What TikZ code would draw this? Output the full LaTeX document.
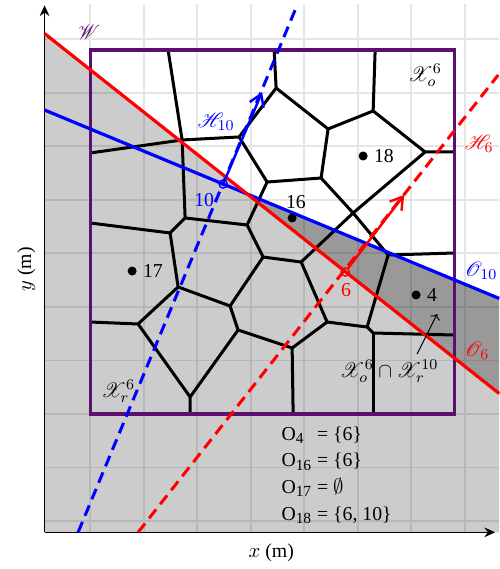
\documentclass[tikz,border=0pt]{standalone}
\usepackage{fontspec}
\setmainfont{Liberation Serif}
\usepackage{mathrsfs}
\DeclareMathSizes{10.5}{10.5}{8.2}{6.5}
\usetikzlibrary{arrows.meta,positioning}
\definecolor{cPurple}{HTML}{5C0F6E}
\definecolor{cLight}{HTML}{CCCCCC}
\definecolor{cDark}{HTML}{999999}

\begin{document}
\begin{tikzpicture}[
  x=1.7cm,y=1.7cm,
  font=\fontsize{10.5}{12.6}\selectfont,
  gridline/.style={draw=black,opacity=0.1,line width=1pt},
  axis/.style={-{Stealth[length=2mm,width=1.8mm]},line width=0.8pt},
  vedge/.style={line width=1.6pt,line join=round},
  border/.style={draw=cPurple,line width=1.7pt},
  halfline/.style={line width=1.7pt},
  hyper/.style={line width=1.6pt,dash pattern=on 6pt off 3.5pt},
  move/.style={line width=1.3pt,-{Straight Barb[length=2.2mm,width=2.8mm]}},
  site/.style={circle,fill=black,inner sep=0pt,minimum size=4.8pt},
  agent/.style={circle,draw,line width=0.7pt,inner sep=0pt,minimum size=4.4pt},
  lbl/.style={inner sep=1pt},
  note/.style={->,line width=0.5pt}
]
\useasboundingbox (-0.99,-1.703) rectangle (4.495,4.549);

% half-plane boundaries
\coordinate (o6a) at (-0.5,4.18);
\coordinate (o6b) at (4.495,0.225);
\coordinate (o10a) at (-0.5,3.34);
\coordinate (o10b) at (4.495,1.27);
\coordinate (cross) at (intersection of o6a--o6b and o10a--o10b);

\fill[cLight] (-0.5,-1.3) -- (o6a) -- (o6b) -- (4.495,-1.3) -- cycle;
\fill[cDark] (cross) -- (o10b) -- (o6b) -- cycle;

\draw[gridline] (-0.5,-1.3) grid (4.495,4.5);

\coordinate (orig) at (-0.5,-1.3);
\draw[axis] (orig) -- (4.45,-1.3);
\draw[axis] (orig) -- (-0.5,4.49);
\node (xlab) at (1.99,-1.52) {$x$ (m)};
\node[rotate=90] (ylab) at (-0.70,1.59) {$y$ (m)};

% voronoi cells
\coordinate (t1) at (0.857,4);   \coordinate (t2) at (2.022,4);   \coordinate (t3) at (3.132,4);
\coordinate (l1) at (0,2.868);   \coordinate (l2) at (0,2.099);   \coordinate (l3) at (0,1.011);
\coordinate (r1) at (4,2.879);   \coordinate (r2) at (4,1.769);   \coordinate (r3) at (4,0.868);
\coordinate (b1) at (1.099,0);   \coordinate (b2) at (2.231,0);   \coordinate (b3) at (3.110,0);
\coordinate (vA) at (1.011,3.011); \coordinate (vB) at (1.637,3.044);
\coordinate (vC) at (1.044,2.154); \coordinate (vD) at (2.044,3.582);
\coordinate (vE) at (2.615,3.132); \coordinate (vF) at (3.110,3.330);
\coordinate (vG) at (3.681,2.879); \coordinate (vH) at (2.538,2.593);
\coordinate (vI) at (1.945,2.549); \coordinate (vX) at (2.890,2.209);
\coordinate (vJ) at (3.275,1.747); \coordinate (vK) at (2.319,1.670);
\coordinate (vL) at (3.044,0.956); \coordinate (vN) at (3.110,0.890);
\coordinate (vP) at (2.604,1.011); \coordinate (vQ) at (2.220,0.725);
\coordinate (vR) at (1.626,0.923); \coordinate (vS) at (1.538,1.187);
\coordinate (vT) at (1.099,0.187); \coordinate (vU) at (0.527,0.989);
\coordinate (vV) at (0.967,1.396); \coordinate (vW) at (0.879,1.989);
\coordinate (vY) at (1.725,2.077); \coordinate (vZ) at (1.901,1.725);

\draw[vedge] (t1) -- (vA) -- (l1);
\draw[vedge] (vA) -- (vB) -- (vD) -- (t2);
\draw[vedge] (vD) -- (vE) -- (vF) -- (t3);
\draw[vedge] (vF) -- (vG) -- (r1);
\draw[vedge] (vE) -- (vH) -- (vI) -- (vB);
\draw[vedge] (vG) -- (vX) -- (vK);
\draw[vedge] (vH) -- (vX) -- (vJ) -- (r2);
\draw[vedge] (vJ) -- (vL) -- (vN) -- (r3);
\draw[vedge] (vN) -- (b3);
\draw[vedge] (vL) -- (vP) -- (vK);
\draw[vedge] (vP) -- (vQ) -- (b2);
\draw[vedge] (vQ) -- (vR) -- (vS);
\draw[vedge] (vR) -- (vT) -- (b1);
\draw[vedge] (vT) -- (vU) -- (l3);
\draw[vedge] (vU) -- (vV) -- (vS);
\draw[vedge] (vV) -- (vW) -- (l2);
\draw[vedge] (vW) -- (vC) -- (vA);
\draw[vedge] (vC) -- (vY) -- (vZ) -- (vK);
\draw[vedge] (vY) -- (vI);
\draw[vedge] (vZ) -- (vS);

\draw[border] (0,0) rectangle (4,4);
\node[text=cPurple] (lW) at (-0.01,4.19) {$\mathscr{W}$};

% robots and their hyperplanes
\coordinate (h10a) at (-0.132,-1.3);
\coordinate (h10b) at (2.253,4.44);
\coordinate (h6a) at (0.527,-1.3);
\coordinate (h6b) at (4.484,3.725);
\draw[hyper,blue] (h10a) -- (h10b);
\draw[hyper,red] (h6a) -- (h6b);
\draw[halfline,blue] (o10a) -- (o10b);
\draw[halfline,red] (o6a) -- (o6b);

\node[agent,draw=blue] (p10) at (1.462,2.527) {};
\node[agent,draw=red] (p6) at (2.802,1.560) {};
\coordinate (a10) at (1.890,3.538);
\coordinate (a6) at (3.451,2.407);
\draw[move,blue] (p10) -- (a10);
\draw[move,red] (p6) -- (a6);
\node[lbl,text=blue] (l10) at (1.253,2.352) {10};
\node[lbl,text=red] (l6) at (2.813,1.363) {6};

% sites
\node[site] (s4) at (3.582,1.308) {};
\node[site] (s16) at (2.220,2.154) {};
\node[site] (s17) at (0.462,1.571) {};
\node[site] (s18) at (3.0,2.835) {};
\node[lbl,right=2pt of s4] {4};
\node[lbl,above=1pt of s16,xshift=2pt] {16};
\node[lbl,right=2pt of s17] {17};
\node[lbl,right=2pt of s18] {18};

% set labels
\node (lXo) at (3.68,3.725) {$\mathscr{X}_o^6$};
\node[text=blue] (lH10) at (1.385,3.209) {$\mathscr{H}_{10}$};
\node[text=red] (lH6) at (4.275,2.967) {$\mathscr{H}_6$};
\node[text=blue] (lO10) at (4.297,1.571) {$\mathscr{O}_{10}$};
\node[text=red] (lO6) at (4.253,0.692) {$\mathscr{O}_6$};
\node (lXr) at (0.308,0.253) {$\mathscr{X}_r^6$};
\node (lcap) at (3.286,0.473) {$\mathscr{X}_o^6 \cap \mathscr{X}_r^{10}$};
\coordinate (capTail) at (3.593,0.659);
\coordinate (capTip) at (3.813,1.099);
\draw[note] (capTail) -- (capTip);

\node[anchor=base west,inner sep=0pt] (occ) at (2.099,-0.286) {%
  \renewcommand{\arraystretch}{1.135}%
  \begin{tabular}[t]{@{}l@{\ }l@{}}
  O\textsubscript{4} & = \{6\}\\
  O\textsubscript{16} & = \{6\}\\
  O\textsubscript{17} & = $\emptyset$\\
  O\textsubscript{18} & = \{6, 10\}
  \end{tabular}};

\end{tikzpicture}
\end{document}
